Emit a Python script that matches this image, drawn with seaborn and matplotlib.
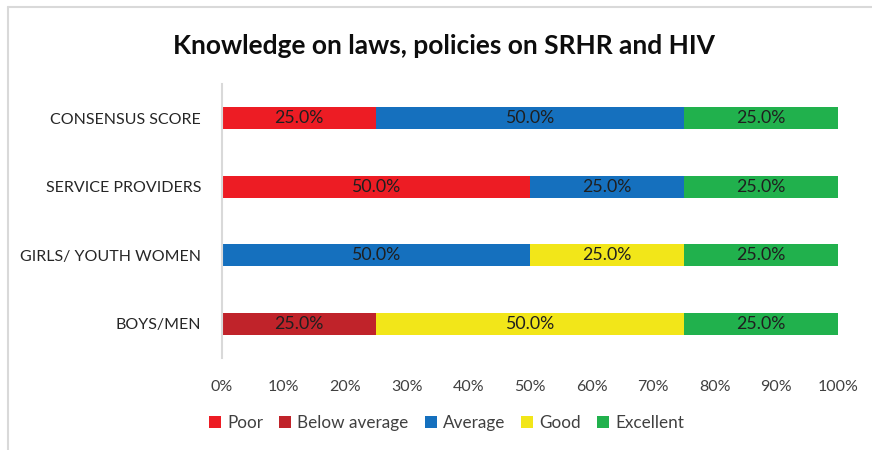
import matplotlib
matplotlib.use("Agg")
import matplotlib.pyplot as plt
from matplotlib.patches import Patch
from matplotlib.lines import Line2D
from matplotlib.ticker import PercentFormatter
import numpy as np
import pandas as pd
import seaborn as sns

groups = ["CONSENSUS SCORE", "SERVICE PROVIDERS", "GIRLS/ YOUTH WOMEN", "BOYS/MEN"]
levels = ["Poor", "Below average", "Average", "Good", "Excellent"]
poor = [25.0, 50.0, 0.0, 0.0]
below_average = [0.0, 0.0, 0.0, 25.0]
average = [50.0, 25.0, 50.0, 0.0]
good = [0.0, 0.0, 25.0, 50.0]
excellent = [25.0, 25.0, 25.0, 25.0]
x_ticks = [0, 10, 20, 30, 40, 50, 60, 70, 80, 90, 100]

colors = ["#ED1C24", "#C0232A", "#1570BE", "#F2E619", "#21B14D"]

sns.set_theme(style="white")
plt.rcParams["font.family"] = ["Lato", "DejaVu Sans"]

df = pd.DataFrame({"group": groups, "Poor": poor, "Below average": below_average,
                   "Average": average, "Good": good, "Excellent": excellent})
cum = df[levels].cumsum(axis=1)

fig = plt.figure(figsize=(8.72, 4.5), dpi=100)
ax = fig.add_axes([0.2546, 0.204, 0.7064, 0.609])

# stacked bars: draw cumulative totals from the outermost level inward
for lvl, col in reversed(list(zip(levels, colors))):
    sns.barplot(x=cum[lvl], y=df["group"], order=groups, color=col,
                width=0.32, orient="h", ax=ax, saturation=1, linewidth=0)

# segment value labels
for i, g in enumerate(groups):
    start = 0.0
    for lvl in levels:
        v = df.loc[i, lvl]
        if v > 0:
            ax.text(start + v / 2, i, f"{v:.1f}%", ha="center", va="center",
                    fontsize=12.8, color="#1f1f1f")
        start += v

ax.set_xlim(0, 100)
ax.set_ylim(3.5, -0.5)
ax.set_xticks(x_ticks)
ax.xaxis.set_major_formatter(PercentFormatter(decimals=0))
ax.set_xlabel("")
ax.set_ylabel("")
ax.tick_params(axis="x", length=0, pad=16, labelsize=11.5, labelcolor="#404040")
ax.tick_params(axis="y", length=0, pad=15, labelsize=11.5, labelcolor="#262626")
for s in ["top", "right", "bottom"]:
    ax.spines[s].set_visible(False)
ax.spines["left"].set_color("#D9D9D9")
ax.spines["left"].set_linewidth(1.5)

fig.suptitle("Knowledge on laws, policies on SRHR and HIV", x=0.509, y=0.925,
             fontsize=19, fontweight="bold", color="#0d0d0d")

handles = [Patch(facecolor=c, edgecolor="none", label=l) for l, c in zip(levels, colors)]
fig.legend(handles=handles, loc="center", bbox_to_anchor=(0.512, 0.06), ncol=5,
           frameon=False, fontsize=12.3, handlelength=0.7, handleheight=0.7,
           handletextpad=0.35, columnspacing=0.95, labelcolor="#404040")

# chart frame
fig.add_artist(Line2D([0.009, 0.009], [0, 0.985], color="#D9D9D9", lw=1.5, transform=fig.transFigure))
fig.add_artist(Line2D([0.009, 1.0], [0.985, 0.985], color="#D9D9D9", lw=1.5, transform=fig.transFigure))

fig.savefig("out.png", dpi=100)
